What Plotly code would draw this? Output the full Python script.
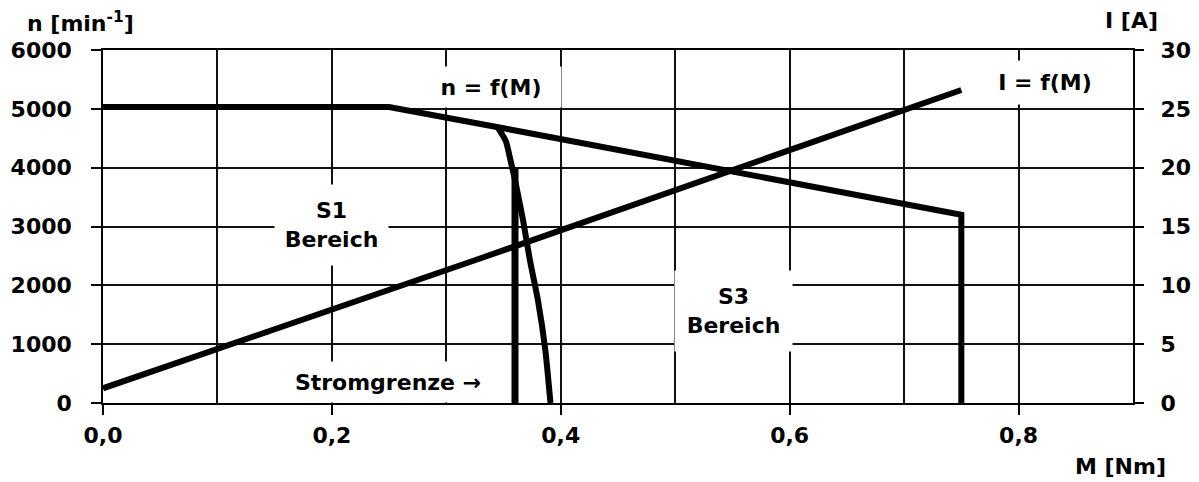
import plotly.graph_objects as go

# n = f(M) (speed curve, left axis)
n_M = [0.0, 0.25, 0.35, 0.50, 0.75, 0.75]
n_val = [5030, 5030, 4670, 4120, 3200, 0]

# S1 limit curve (left axis)
s1_M = [0.345, 0.352, 0.356, 0.360, 0.367, 0.373, 0.380, 0.3865, 0.391]
s1_val = [4680, 4450, 4130, 3790, 3110, 2430, 1750, 900, 0]

# Stromgrenze (current limit, left axis)
sg_M = [0.360, 0.360]
sg_val = [4000, 0]

# I = f(M) (current, right axis)
i_M = [0.0, 0.33, 0.75]
i_val = [1.25, 12.3, 26.6]

x_ticks = [0.0, 0.2, 0.4, 0.6, 0.8]
y_ticks = [0, 1000, 2000, 3000, 4000, 5000, 6000]
y2_ticks = [0, 5, 10, 15, 20, 25, 30]

FONT = "DejaVu Sans"
line_style = dict(color="black", width=6)

fig = go.Figure()
fig.add_trace(go.Scatter(x=n_M, y=n_val, mode="lines", line=line_style, showlegend=False))
fig.add_trace(go.Scatter(x=s1_M, y=s1_val, mode="lines",
                         line=dict(color="black", width=6, shape="spline", smoothing=0.6), showlegend=False))
fig.add_trace(go.Scatter(x=sg_M, y=sg_val, mode="lines", line=dict(color="black", width=7), showlegend=False))
fig.add_trace(go.Scatter(x=i_M, y=i_val, mode="lines", line=line_style, yaxis="y2", showlegend=False))

tick_font = dict(family=FONT, size=22, color="black", weight="bold")
axis_common = dict(
    showline=True, linecolor="black", linewidth=1.5,
    showgrid=True, gridcolor="#111", gridwidth=1.5,
    ticks="outside", ticklen=10, tickwidth=1.5, tickcolor="black",
    zeroline=False, automargin=False,
    tickfont=tick_font,
)

# the page body has an 8 px margin; compensate so the plot lands where intended
OFF = 8
W, H = 1199 - OFF, 482 - OFF
ML, MR, MT, MB = 103 - OFF, 66, 50 - OFF, 79

fig.update_layout(
    width=W, height=H,
    margin=dict(l=ML, r=MR, t=MT, b=MB, autoexpand=False),
    paper_bgcolor="white", plot_bgcolor="white",
    separators=",.",
    font=dict(family=FONT, color="black"),
    xaxis=dict(
        **axis_common, range=[0, 0.9], tickvals=x_ticks, tickformat=".1f",
        mirror=True, ticklabelstandoff=2,
        minor=dict(dtick=0.1, showgrid=True, gridcolor="#111", gridwidth=1.5, ticks=""),
    ),
    yaxis=dict(
        **axis_common, range=[0, 6000], tickvals=y_ticks, mirror=True,
        ticklabelstandoff=15,
    ),
    yaxis2=dict(
        showline=False, showgrid=False, zeroline=False, automargin=False,
        overlaying="y", side="right", range=[0, 30], tickvals=y2_ticks,
        ticks="outside", ticklen=10, tickwidth=1.5, tickcolor="black",
        tickfont=tick_font, ticklabelstandoff=12,
    ),
)

ann_font = dict(family=FONT, size=22, color="black", weight="bold")

def box(text, x, y, w, h, yref="y"):
    fig.add_annotation(
        x=x, y=y, xref="x", yref=yref, text=text, showarrow=False,
        font=ann_font, bgcolor="white", width=w, height=h, align="center",
        borderpad=0,
    )

box("S1<br>Bereich", 0.20, 3025, 113, 80)
box("S3<br>Bereich", 0.551, 1564, 117, 80)
box("n = f(M)", 0.339, 5371, 140, 40)
box("I = f(M)", 0.823, 27.2, 122, 43, yref="y2")
box("Stromgrenze →", 0.249, 357, 230, 40)

# axis titles, placed by screen pixel position converted to paper coordinates
plot_w = W - ML - MR
plot_h = H - MT - MB
x0_screen = OFF + ML
y0_screen = OFF + H - MB

def px(xp):
    return (xp - x0_screen) / plot_w

def py(yp):
    return (y0_screen - yp) / plot_h

fig.add_annotation(x=px(25), y=py(22), xref="paper", yref="paper", text="n [min<sup>-1</sup>]",
                   showarrow=False, font=ann_font, xanchor="left", yanchor="middle")
fig.add_annotation(x=px(1160), y=py(21), xref="paper", yref="paper", text="I [A]",
                   showarrow=False, font=ann_font, xanchor="right", yanchor="middle")
fig.add_annotation(x=px(1168), y=py(466), xref="paper", yref="paper", text="M [Nm]",
                   showarrow=False, font=ann_font, xanchor="right", yanchor="middle")

fig.write_html("out.html")
